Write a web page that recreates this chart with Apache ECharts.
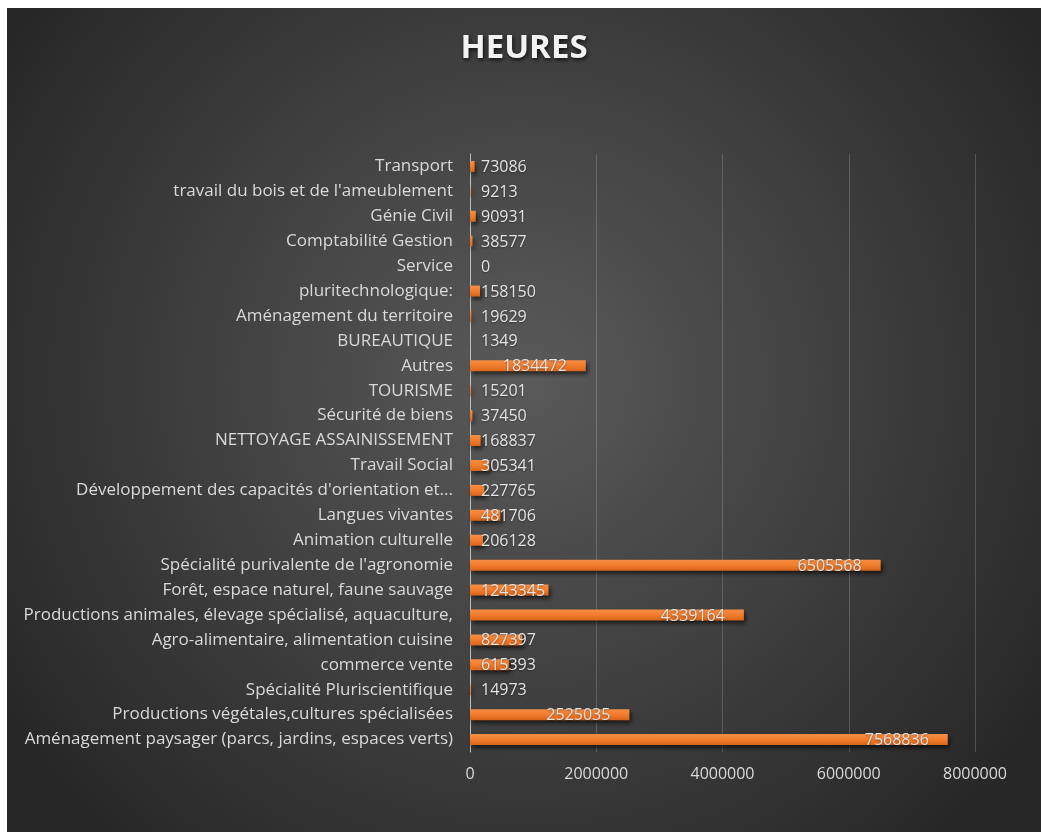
<!DOCTYPE html>
<html>
<head>
<meta charset="utf-8">
<script src="https://cdn.jsdelivr.net/npm/echarts@6/dist/echarts.min.js"></script>
<style>
  html, body { margin: 0; padding: 0; background: #fff; }
  #chart { position: absolute; left: 7px; top: 8px; width: 1034px; height: 824px; }
</style>
</head>
<body>
<div id="chart"></div>
<script>
// from bottom row to top row
var categories = [
  'Aménagement paysager (parcs, jardins, espaces verts)',
  'Productions végétales,cultures spécialisées',
  'Spécialité Pluriscientifique',
  'commerce vente',
  'Agro-alimentaire, alimentation cuisine',
  'Productions animales, élevage spécialisé, aquaculture,',
  'Forêt, espace naturel, faune sauvage',
  "Spécialité purivalente de l'agronomie",
  'Animation culturelle',
  'Langues vivantes',
  "Développement des capacités d'orientation et...",
  'Travail Social',
  'NETTOYAGE ASSAINISSEMENT',
  'Sécurité de biens',
  'TOURISME',
  'Autres',
  'BUREAUTIQUE',
  'Aménagement du territoire',
  'pluritechnologique:',
  'Service',
  'Comptabilité Gestion',
  'Génie Civil',
  "travail du bois et de l'ameublement",
  'Transport'
];
var heures = [
  7568836, 2525035, 14973, 615393, 827397, 4339164, 1243345, 6505568,
  206128, 481706, 227765, 305341, 168837, 37450, 15201, 1834472,
  1349, 19629, 158150, 0, 38577, 90931, 9213, 73086
];
var xTicks = [0, 2000000, 4000000, 6000000, 8000000];

var chart = echarts.init(document.getElementById('chart'));

var barData = heures.map(function (v) {
  var inside = v > 1500000;
  return {
    value: v,
    label: {
      position: inside ? 'insideRight' : 'insideLeft',
      offset: inside ? [-14, 1] : [6, 1]
    }
  };
});

chart.setOption({
  backgroundColor: {
    type: 'radial', x: 0.5, y: 0.45, r: 0.75,
    colorStops: [
      { offset: 0, color: '#5a5a5a' },
      { offset: 1, color: '#272727' }
    ]
  },
  title: {
    text: 'HEURES',
    left: 'center',
    top: 19,
    textStyle: {
      color: '#f2f2f2',
      fontFamily: 'Open Sans',
      fontWeight: 'bold',
      fontSize: 33,
      textShadowColor: 'rgba(0,0,0,0.8)',
      textShadowBlur: 4,
      textShadowOffsetX: 1,
      textShadowOffsetY: 2
    }
  },
  grid: { left: 463, right: 66, top: 146, bottom: 80, containLabel: false },
  xAxis: {
    type: 'value',
    min: xTicks[0],
    max: xTicks[xTicks.length - 1],
    interval: 2000000,
    axisLine: { show: false },
    axisTick: { show: false },
    splitLine: { lineStyle: { color: 'rgba(255,255,255,0.18)', width: 1 } },
    axisLabel: {
      color: '#d9d9d9',
      fontFamily: 'Open Sans',
      fontSize: 16,
      margin: 14,
      formatter: function (v) { return String(v); }
    }
  },
  yAxis: {
    type: 'category',
    data: categories,
    axisLine: { show: true, lineStyle: { color: '#bfbfbf', width: 1 } },
    axisTick: { show: false },
    axisLabel: {
      color: '#d9d9d9',
      fontFamily: 'Open Sans',
      fontSize: 17,
      margin: 17
    }
  },
  series: [{
    type: 'bar',
    data: barData,
    barWidth: 11,
    itemStyle: {
      color: {
        type: 'linear', x: 0, y: 0, x2: 0, y2: 1,
        colorStops: [
          { offset: 0, color: '#f68e45' },
          { offset: 0.5, color: '#f27c2c' },
          { offset: 1, color: '#d8651b' }
        ]
      },
      shadowColor: 'rgba(0,0,0,0.6)',
      shadowBlur: 4,
      shadowOffsetX: 2,
      shadowOffsetY: 3
    },
    label: {
      show: true,
      color: '#e3e3e3',
      fontFamily: 'Open Sans',
      fontSize: 16,
      textShadowColor: 'rgba(0,0,0,0.4)',
      textShadowBlur: 2,
      textShadowOffsetY: 1
    }
  }]
});
</script>
</body>
</html>
